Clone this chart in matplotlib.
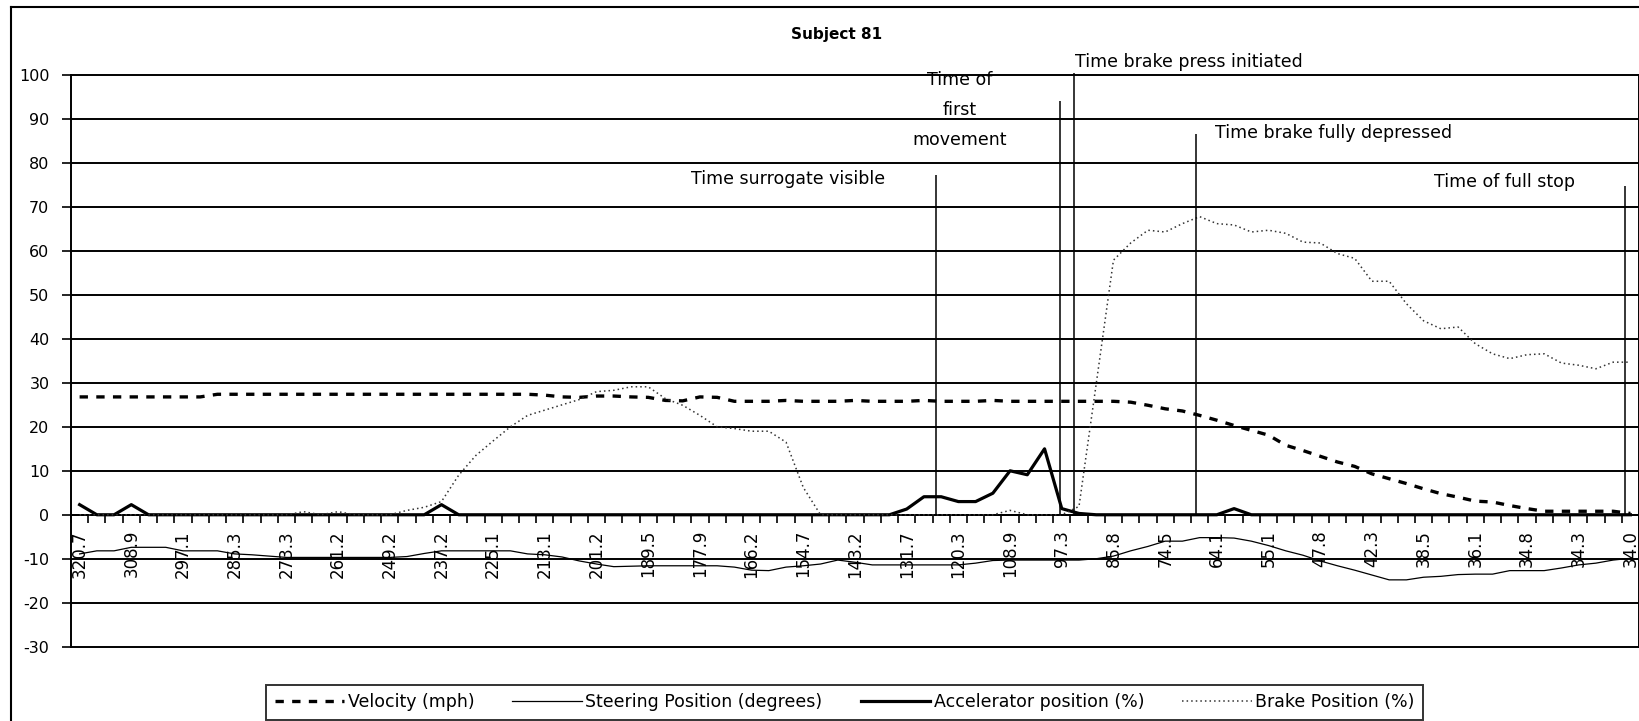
import matplotlib.pyplot as plt
from matplotlib.lines import Line2D

plt.rcParams['axes.unicode_minus'] = False

# distance labels shown on the category axis (every third sample)
dist_labels = ['320.7', '308.9', '297.1', '285.3', '273.3', '261.2', '249.2', '237.2',
               '225.1', '213.1', '201.2', '189.5', '177.9', '166.2', '154.7', '143.2',
               '131.7', '120.3', '108.9', '97.3', '85.8', '74.5', '64.1', '55.1',
               '47.8', '42.3', '38.5', '36.1', '34.8', '34.3', '34.0']

velocity = [
    26.8, 26.8, 26.8, 26.8, 26.8, 26.8, 26.8, 26.8, 27.4, 27.4,
    27.4, 27.4, 27.4, 27.4, 27.4, 27.4, 27.4, 27.4, 27.4, 27.4,
    27.4, 27.4, 27.4, 27.4, 27.4, 27.4, 27.4, 27.2, 26.8, 26.7,
    27.0, 27.0, 26.8, 26.7, 26.0, 25.9, 26.8, 26.7, 25.8, 25.8,
    25.8, 26.0, 25.8, 25.8, 25.8, 26.0, 25.8, 25.8, 25.8, 26.0,
    25.8, 25.8, 25.8, 26.0, 25.8, 25.8, 25.8, 25.8, 25.8, 25.8,
    25.8, 25.6, 24.9, 24.1, 23.6, 22.6, 21.5, 20.3, 19.2, 18.1,
    15.8, 14.6, 13.3, 12.0, 11.0, 9.3, 8.2, 7.1, 5.9, 4.8,
    4.0, 3.1, 2.9, 2.1, 1.4, 0.8, 0.8, 0.8, 0.8, 0.8,
    0.3]

steering = [
    -8.9, -8.2, -8.2, -7.4, -7.4, -7.4, -8.2, -8.2, -8.2, -8.9,
    -9.1, -9.4, -9.7, -9.7, -9.7, -9.7, -9.7, -9.7, -9.7, -9.5,
    -8.8, -8.2, -8.2, -8.2, -8.2, -8.2, -8.9, -9.1, -9.6, -10.5,
    -11.2, -11.8, -11.7, -11.6, -11.6, -11.6, -11.6, -11.6, -11.9, -12.6,
    -12.7, -11.9, -11.6, -11.2, -10.3, -10.8, -11.4, -11.4, -11.4, -11.4,
    -11.4, -11.4, -11.0, -10.4, -10.3, -10.3, -10.3, -10.3, -10.3, -10.0,
    -9.4, -8.2, -7.2, -6.0, -6.0, -5.2, -5.2, -5.3, -6.0, -7.0,
    -8.2, -9.2, -10.5, -11.6, -12.6, -13.7, -14.8, -14.8, -14.2, -14.0,
    -13.6, -13.5, -13.5, -12.7, -12.7, -12.7, -12.1, -11.4, -11.0, -10.3,
    -9.9]

accelerator = [
    2.3, 0, 0, 2.3, 0, 0, 0, 0, 0, 0,
    0, 0, 0, 0, 0, 0, 0, 0, 0, 0,
    0, 2.3, 0, 0, 0, 0, 0, 0, 0, 0,
    0, 0, 0, 0, 0, 0, 0, 0, 0, 0,
    0, 0, 0, 0, 0, 0, 0, 0, 1.3, 4.1,
    4.1, 3.0, 3.0, 4.9, 10.0, 9.1, 15.0, 1.4, 0.3, 0,
    0, 0, 0, 0, 0, 0, 0, 1.4, 0, 0,
    0, 0, 0, 0, 0, 0, 0, 0, 0, 0,
    0, 0, 0, 0, 0, 0, 0, 0, 0, 0,
    0]

brake = [
    0, 0, 0, 0, 0, 0, 0, 0, 0, 0,
    0, 0, 0, 0.7, 0, 0.7, 0, 0, 0, 1.0,
    1.7, 3.0, 9.0, 13.5, 16.8, 20.0, 22.6, 23.8, 25.0, 26.2,
    28.0, 28.3, 29.1, 29.1, 26.4, 24.9, 22.6, 20.0, 19.6, 19.0,
    19.0, 16.5, 6.2, 0, 0, 0, 0, 0, 0, 0,
    0, 0, 0, 0, 1.0, 0, 0, 0, 1.9, 29.8,
    57.9, 61.8, 64.7, 64.3, 66.2, 67.8, 66.2, 65.9, 64.3, 64.7,
    64.0, 62.0, 61.8, 59.4, 58.3, 53.1, 53.1, 48.0, 44.1, 42.3,
    42.7, 38.9, 36.6, 35.5, 36.4, 36.6, 34.5, 34.0, 33.2, 34.7,
    34.7]

# event markers: sample position and height of the marker line
events = ['Time surrogate visible', 'Time of\nfirst\nmovement', 'Time brake press initiated',
          'Time brake fully depressed', 'Time of full stop']
event_at = [49.7, 56.9, 57.7, 64.8, 89.7]
event_top = [77.2, 94.0, 100.5, 86.5, 74.7]

# where the captions go (x in samples, y in data units, alignment)
caption_pos = [(41.1, 76.3, 'center'), (51.1, 92.0, 'center'), (57.75, 103.0, 'left'),
               (65.9, 86.8, 'left'), (82.7, 75.7, 'center')]

W, H = 1640, 721
fig = plt.figure(figsize=(W / 100, H / 100), dpi=100)
ax = fig.add_axes([71 / W, 1 - 646.7 / H, 1568 / W, (646.7 - 75) / H])

x = list(range(len(velocity)))
ax.plot(x, velocity, color='black', lw=2.4, ls=(0, (2.5, 2.5)), label='Velocity (mph)', zorder=3)
ax.plot(x, steering, color='black', lw=0.9, label='Steering Position (degrees)', zorder=3)
ax.plot(x, accelerator, color='black', lw=2.3, label='Accelerator position (%)', zorder=4)
ax.plot(x, brake, color='0.2', lw=1.1, ls=(0, (1, 2)), label='Brake Position (%)', zorder=5)

ax.vlines(event_at, 0, event_top, color='black', lw=1.1, zorder=6, clip_on=False)
for txt, (cx, cy, ha) in zip(events, caption_pos):
    ax.text(cx, cy, txt, ha=ha, va='center', fontsize=12.5, linespacing=1.85, clip_on=False)

ax.set_xlim(-0.5, len(velocity) - 0.5)
ax.set_ylim(-30, 100)

ax.set_yticks(range(-30, 101, 10))
ax.yaxis.grid(True, color='black', lw=1.4)
for gl in ax.get_ygridlines():
    gl.set_clip_on(False)
ax.tick_params(axis='y', length=6.5, width=1.2, pad=9, labelsize=11.5)

ax.set_xticks(range(0, len(velocity), 3))
ax.set_xticklabels(dist_labels)
ax.set_xticks([k - 0.5 for k in range(len(velocity) + 1)], minor=True)
ax.tick_params(axis='x', which='major', length=0, pad=11, labelsize=12, labelrotation=90)
ax.tick_params(axis='x', which='minor', length=5.5, width=1.2, direction='out')

ax.spines['bottom'].set_position(('data', 0))
ax.spines['top'].set_visible(False)
for s in ['left', 'right', 'bottom']:
    ax.spines[s].set_linewidth(1.4)

fig.text(0.51, 0.952, 'Subject 81', ha='center', va='center', fontsize=11, fontweight='bold')

leg = fig.legend(loc='center', bbox_to_anchor=(0.515, 0.0257), ncol=4, frameon=True,
                 fancybox=False, edgecolor='black', fontsize=12.5, handlelength=4.0,
                 handletextpad=0.2, columnspacing=2.2, borderpad=0.5)
leg.get_frame().set_linewidth(1.4)

# outer chart border (left and top edges visible in the original)
fig.add_artist(Line2D([11 / W, 11 / W], [0, 1 - 7 / H], color='black', lw=1.5))
fig.add_artist(Line2D([11 / W, 1], [1 - 7 / H, 1 - 7 / H], color='black', lw=1.5))

fig.savefig('out.png', dpi=100)
